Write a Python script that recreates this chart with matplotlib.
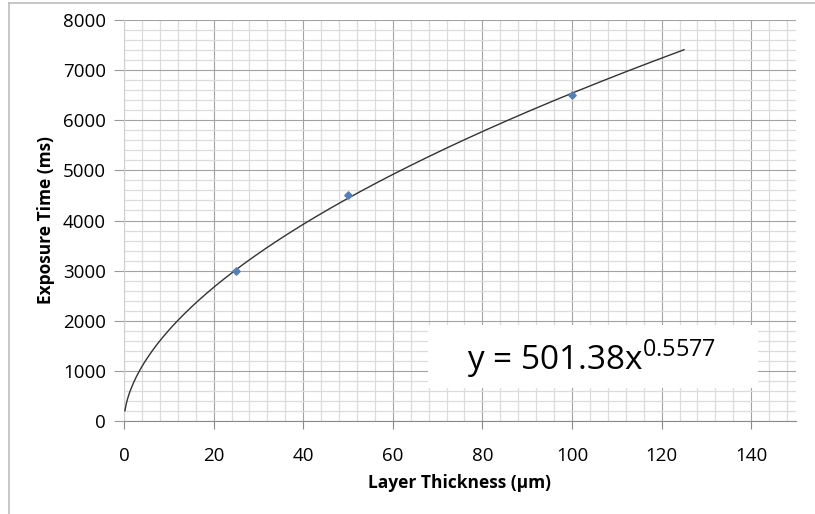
import numpy as np
import matplotlib.pyplot as plt
from matplotlib.lines import Line2D
from matplotlib.patches import Rectangle
from matplotlib.ticker import MultipleLocator

plt.rcParams['font.family'] = ['Open Sans', 'DejaVu Sans']
plt.rcParams['mathtext.fontset'] = 'custom'
plt.rcParams['mathtext.rm'] = 'Open Sans'

# Measured points
thickness = [25, 50, 100]
exposure = [3000, 4500, 6500]

# Power trendline shown on the chart
coef_a = 501.38
coef_b = 0.5577
trend_x = np.linspace(0.2, 125, 400)
trend_y = coef_a * trend_x ** coef_b

fig = plt.figure(figsize=(8.15, 5.14), dpi=100)
ax = fig.add_axes([124 / 815, 1 - 421 / 514, 672 / 815, 401 / 514])

ax.plot(trend_x, trend_y, color='#333333', lw=1.0, zorder=3)
ax.scatter(thickness, exposure, marker='D', s=14, color='#4F81BD', zorder=4)

ax.set_xlim(0, 150)
ax.set_ylim(0, 8000)
ax.xaxis.set_major_locator(MultipleLocator(20))
ax.xaxis.set_minor_locator(MultipleLocator(4))
ax.yaxis.set_major_locator(MultipleLocator(1000))
ax.yaxis.set_minor_locator(MultipleLocator(200))
ax.set_xticks([0, 20, 40, 60, 80, 100, 120, 140])

ax.grid(True, which='major', color='#a3a3a3', lw=0.8, zorder=0)
ax.grid(True, which='minor', color='#dcdcdc', lw=0.9, zorder=0)
ax.set_axisbelow(True)

for side in ['top', 'right']:
    ax.spines[side].set_visible(False)
ax.spines['left'].set_color('#d0d0d0')
ax.spines['bottom'].set_color('#8a8a8a')

ax.tick_params(axis='both', which='minor', length=0)
ax.tick_params(axis='x', which='major', length=6, color='#8a8a8a', pad=13, labelsize=13.5)
ax.tick_params(axis='y', which='major', length=7, color='#9a9a9a', pad=6, labelsize=13.5)

ax.set_xlabel('Layer Thickness (μm)', fontsize=12.5, fontweight='bold', labelpad=6)
ax.set_ylabel('Exposure Time (ms)', fontsize=12.5, fontweight='bold', labelpad=6)

# Equation box
ax.add_patch(Rectangle((304 / 672, 33 / 401), 330 / 672, 63 / 401, transform=ax.transAxes,
                       facecolor='white', edgecolor='none', zorder=5))
ax.text((467 - 124) / 672, 62 / 401, r'y = 501.38x$^{0.5577}$', transform=ax.transAxes,
        ha='left', va='center', fontsize=24, zorder=6)

# Outer frame of the screenshot
fig.add_artist(Line2D([9 / 815, 9 / 815], [0, 1 - 3 / 514], color='#bdbdbd', lw=1.2))
fig.add_artist(Line2D([9 / 815, 1], [1 - 3 / 514, 1 - 3 / 514], color='#bdbdbd', lw=1.2))

plt.savefig('out.png', dpi=100)
